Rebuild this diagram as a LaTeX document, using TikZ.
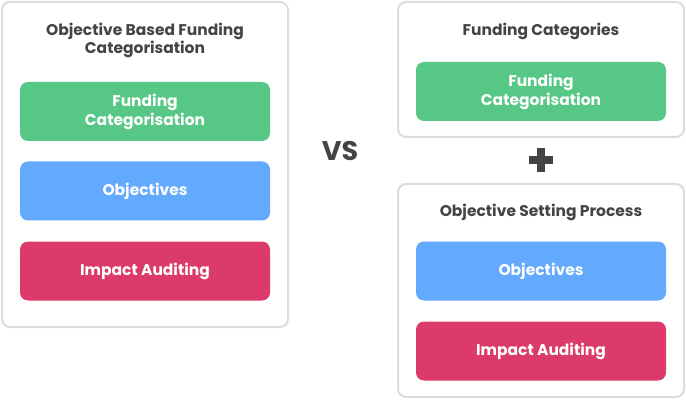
\documentclass[tikz,border=0pt]{standalone}
\usepackage{fontspec}
\setmainfont{Poppins}
\definecolor{frame}{HTML}{DCDCDC}
\definecolor{ink}{HTML}{444444}
\definecolor{fundgreen}{HTML}{57C785}
\definecolor{objblue}{HTML}{63A9FD}
\definecolor{auditred}{HTML}{DB3A6B}
\tikzset{
  panel/.style={draw=frame, line width=2pt, rounded corners=8pt, fill=white},
  card/.style={rounded corners=8pt, minimum width=250pt, minimum height=59pt,
    text=white, font=\fontsize{15.5}{19}\selectfont\bfseries, align=center, inner sep=0pt},
  heading/.style={text=ink, font=\fontsize{15.5}{18}\selectfont\bfseries, align=center},
}
\begin{document}
\begin{tikzpicture}[x=1pt,y=-1pt]
  \useasboundingbox (0,0) rectangle (686,401);
  % left panel: combined approach
  \draw[panel] (2,2) rectangle (288,327);
  \node[heading] (lt) at (145,40) {Objective Based Funding\\Categorisation};
  \node[card, fill=fundgreen] (lg) at (145,111.5) {Funding\\Categorisation};
  \node[card, fill=objblue] (lb) at (145,191) {Objectives};
  \node[card, fill=auditred] (lr) at (145,271) {Impact Auditing};
  % comparison label
  \node[text=ink, font=\fontsize{27}{30}\selectfont\bfseries] (vs) at (340,151) {VS};
  % right top panel
  \draw[panel] (398,2) rectangle (684,137);
  \node[heading] (rt) at (541,31) {Funding Categories};
  \node[card, fill=fundgreen] (rg) at (541,91.5) {Funding\\Categorisation};
  % plus sign
  \node[fill=ink, minimum width=24pt, minimum height=8pt, inner sep=0pt] (plush) at (541,160) {};
  \node[fill=ink, minimum width=8pt, minimum height=24pt, inner sep=0pt] (plusv) at (541,160) {};
  % right bottom panel
  \draw[panel] (398,184) rectangle (684,397);
  \node[heading] (rs) at (541,212) {Objective Setting Process};
  \node[card, fill=objblue] (rb) at (541,271) {Objectives};
  \node[card, fill=auditred] (rr) at (541,351) {Impact Auditing};
\end{tikzpicture}
\end{document}
